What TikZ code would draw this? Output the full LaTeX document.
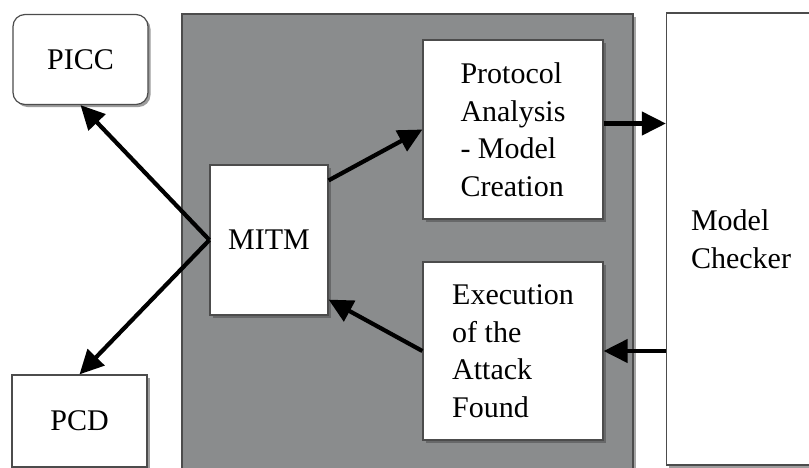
\documentclass[tikz,border=0pt]{standalone}
\usepackage{fontspec}
\setmainfont{Liberation Serif}
\usetikzlibrary{arrows.meta,positioning,shadows}
\definecolor{panelgray}{RGB}{138,140,141}

\tikzset{
  box/.style={draw=black!70, line width=1.2pt, fill=white, align=left,
    inner sep=0pt, font=\fontsize{30}{37.5}\selectfont,
    drop shadow={shadow xshift=2.5pt, shadow yshift=-2.5pt, fill=black!70, opacity=0.55}},
  flow/.style={line width=4.2pt, -{Triangle[length=24pt,width=23pt]}},
}

\begin{document}
\begin{tikzpicture}[x=1pt,y=-1pt]
\useasboundingbox (0,0) rectangle (809,467);
% attacker side
\draw[draw=black!70, line width=1.2pt, fill=panelgray,
  drop shadow={shadow xshift=3pt, shadow yshift=-3pt, fill=black!70, opacity=0.5}]
  (182,14) rectangle (633,470);
% outer parties
\node[box, rounded corners=12pt, minimum width=135pt, minimum height=90pt] (picc) at (80.5,59.5) {PICC};
\node[box, minimum width=135pt, minimum height=92pt] (pcd) at (79.5,421) {PCD};
% inner blocks
\node[box, minimum width=118pt, minimum height=150pt] (mitm) at (269,240) {MITM};
\node[box, minimum width=180pt, minimum height=179pt] (protocol) at (513,129.5)
  {Protocol\\Analysis\\- Model\\Creation};
\node[box, minimum width=180pt, minimum height=178pt] (exec) at (513,351)
  {Execution\\of the\\Attack\\Found};
\node[box, minimum width=149pt, minimum height=452pt] (checker) at (741,239)
  {Model\\Checker};
% message flow
\draw[flow] (mitm.west) -- (picc.south);
\draw[flow] (mitm.west) -- (pcd.north);
\draw[flow] (mitm.45) -- (protocol.west);
\draw[flow] (exec.west) -- (mitm.-45);
\draw[flow] ([yshift=6pt]protocol.east) -- ([yshift=6pt]protocol.east -| checker.west);
\draw[flow] (checker.west |- exec.east) -- (exec.east);
\end{tikzpicture}
\end{document}
